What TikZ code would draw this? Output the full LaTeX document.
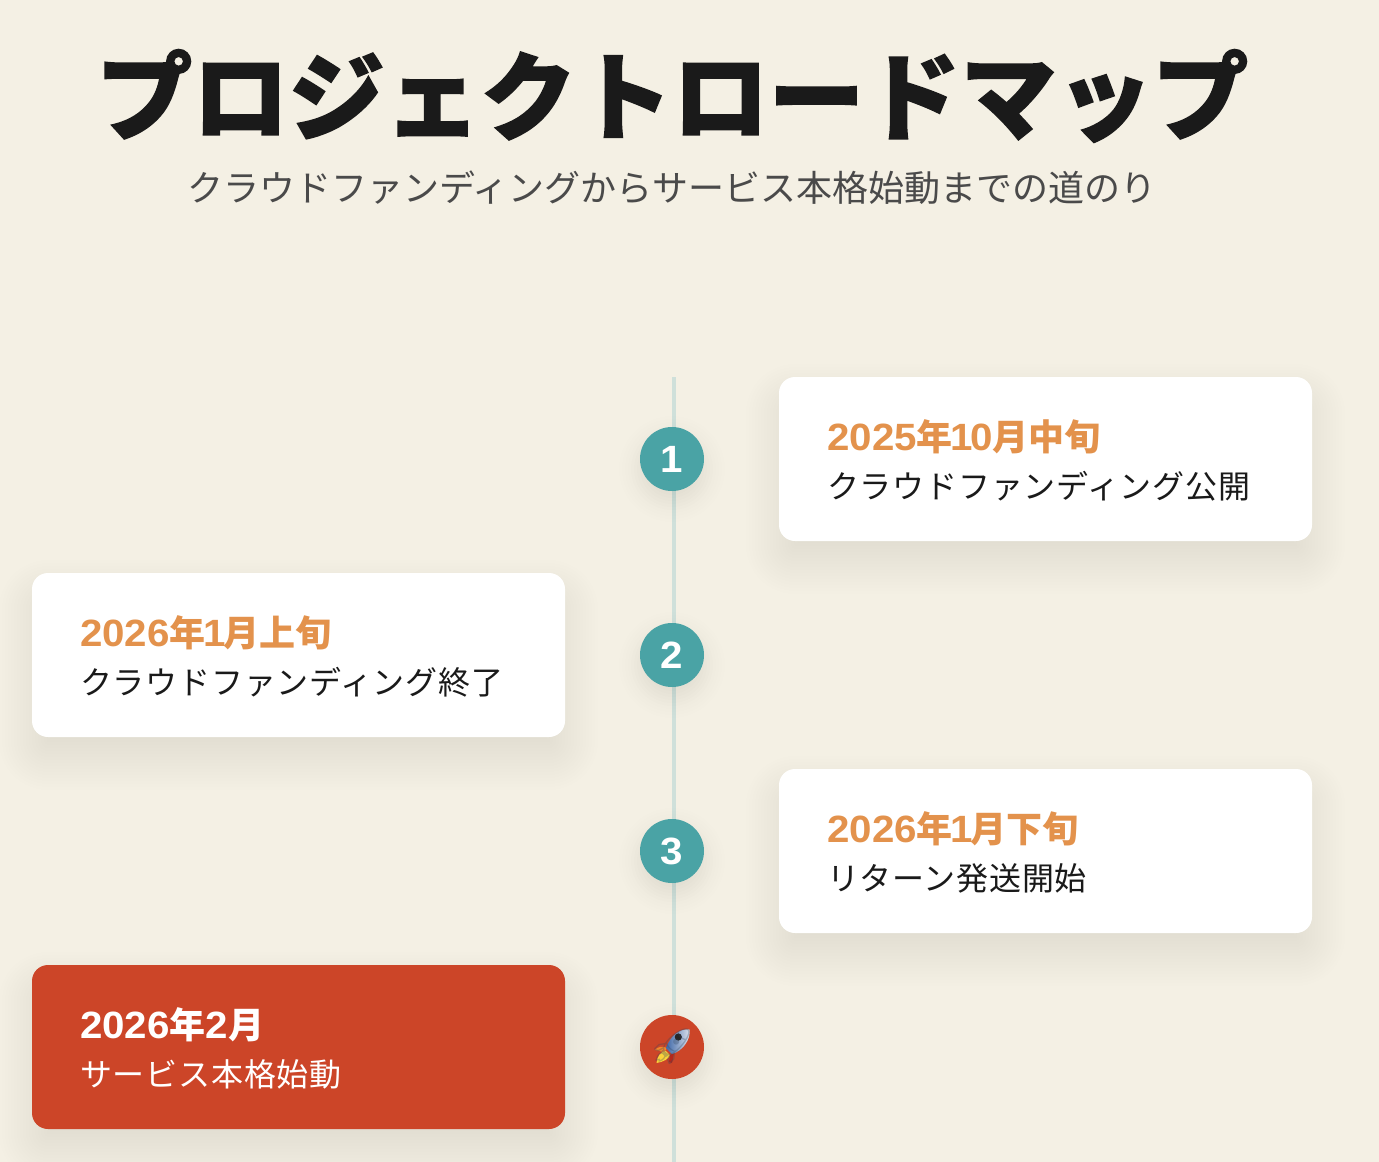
\documentclass[tikz,border=0pt]{standalone}
\usepackage{fontspec}
\usetikzlibrary{calc}
\newfontfamily\jpreg{Noto Sans CJK JP}
\newfontfamily\jpevent{Noto Sans CJK JP}[LetterSpace=2.4]
\newfontfamily\jpheavy{Noto Sans CJK JP}[BoldFeatures={FakeBold=1.5}]
\newfontfamily\latfam{Liberation Sans}[BoldFeatures={FakeStretch=1.06}]
\newcommand{\latbold}{\latfam\bfseries\fontsize{38}{38}\selectfont}
\newcommand{\jpbold}{\jpreg\bfseries}
\newfontfamily\emojifont{Noto Emoji}
\definecolor{pagebg}{HTML}{F4F0E4}
\definecolor{teal}{HTML}{4AA3A5}
\definecolor{dateor}{HTML}{E3924C}
\definecolor{launch}{HTML}{CC4528}
\definecolor{inktext}{HTML}{1A1A1A}
\definecolor{subtext}{HTML}{4A4A4A}
\definecolor{railcol}{HTML}{CFE0DA}
\definecolor{rkblue}{HTML}{3F68A8}
\definecolor{rksilver}{HTML}{E4E8EE}
\definecolor{rkline}{HTML}{2F4560}
\definecolor{rkyellow}{HTML}{FBD23A}
\definecolor{rkorange}{HTML}{F2882A}
\definecolor{rkred}{HTML}{B3281C}
\newcommand{\softcard}[4]{%
  \foreach \g in {54,51,...,-54}{%
    \pgfmathsetmacro{\w}{0.0052*exp(-(\g/24)*(\g/24)/2)}%
    \pgfmathsetmacro{\r}{max(1,16+\g)}%
    \fill[black,fill opacity=\w,rounded corners=\r pt]
      (#1-\g,#2-\g+20) rectangle (#3+\g,#4+\g+20);}}
\newcommand{\softdot}[2]{%
  \foreach \g in {30,27,...,-30}{%
    \pgfmathsetmacro{\w}{0.0085*exp(-(\g/14)*(\g/14)/2)}%
    \fill[black,fill opacity=\w] (#1,#2+10) circle ({32+\g});}}
\tikzset{
  cardbox/.style={rounded corners=16pt,inner sep=0pt,minimum width=533pt,minimum height=164pt,fill=white},
  launchbox/.style={cardbox,fill=launch},
  stepdot/.style={circle,inner sep=0pt,minimum size=64pt,fill=teal,text=white,font=\latbold},
  launchdot/.style={stepdot,fill=launch},
  rail/.style={railcol,line width=4pt},
  datetext/.style={anchor=base west,inner sep=0pt,text=dateor,font=\jpbold\fontsize{36}{36}\selectfont},
  eventtext/.style={anchor=base west,inner sep=0pt,text=inktext,font=\jpevent\fontsize{32}{32}\selectfont},
}
\newcommand{\dd}[1]{{\latbold #1}}
\newcommand{\nn}{\kern-2.5pt 1\kern-2.5pt }
\begin{document}
\begin{tikzpicture}[x=1pt,y=-1pt]
\useasboundingbox (0,0) rectangle (1379,1162);
\fill[pagebg] (0,0) rectangle (1379,1162);
\node[inner sep=0pt,text=inktext,font=\jpheavy\bfseries\fontsize{96}{96}\selectfont] (title) at (672.5,96) {プロジェクトロードマップ};
\node[inner sep=0pt,text=subtext,font=\jpreg\fontsize{36}{36}\selectfont] (subtitle) at (672,188) {クラウドファンディングからサービス本格始動までの道のり};
\coordinate (railtop) at (674,377);
\coordinate (railend) at (674,1162);
\draw[rail] (railtop) -- (railend);
\softcard{779}{377}{1312}{541}
\softcard{32}{573}{565}{737}
\softcard{779}{769}{1312}{933}
\softcard{32}{965}{565}{1129}
\softdot{672}{459}
\softdot{672}{655}
\softdot{672}{851}
\softdot{672}{1047}
\node[cardbox] (c1) at (1045.5,459) {};
\node[cardbox] (c2) at (298.5,655) {};
\node[cardbox] (c3) at (1045.5,851) {};
\node[launchbox] (c4) at (298.5,1047) {};
\node[stepdot] (d1) at (672,459) {1};
\node[stepdot] (d2) at (672,655) {2};
\node[stepdot] (d3) at (672,851) {3};
\node[launchdot] (d4) at (672,1047) {};
\node[datetext] (t1) at (827,450) {\dd{2025}年\dd{\nn 0}月中旬};
\node[eventtext] (e1) at (827,498) {クラウドファンディング公開};
\node[datetext] (t2) at (80,646) {\dd{2026}年\dd{\nn}月上旬};
\node[eventtext] (e2) at (80,694) {クラウドファンディング終了};
\node[datetext] (t3) at (827,842) {\dd{2026}年\dd{\nn}月下旬};
\node[eventtext] (e3) at (827,890) {リターン発送開始};
\node[datetext,text=white] (t4) at (80,1038) {\dd{2026}年\dd{2}月};
\node[eventtext,text=white] (e4) at (80,1086) {サービス本格始動};
% rocket colouring under the glyph
\begin{scope}[shift={(672,1047)}]
  \fill[rkorange] (-17.5,3) .. controls (-13,-1) and (-9,-1) .. (-5,1) -- (-8,6) .. controls (-11,4) and (-14,3) .. (-17.5,3) -- cycle;
  \fill[rkyellow] (-15.5,16) .. controls (-15,9) and (-11,4) .. (-6,4) -- (-2,8) .. controls (-3,12) and (-9,15) .. (-15.5,16) -- cycle;
  \fill[rkred] (-3,15) -- (-2,8) -- (2,6) -- (0,16) -- cycle;
  \shade[left color=rkblue,right color=rksilver]
    (17.5,-17.5) .. controls (8,-19) and (-2,-11) .. (-6,1) -- (0,7) .. controls (11,4) and (19,-8) .. (17.5,-17.5) -- cycle;
  \fill[black!85] (6.3,-10) circle (3.6);
\end{scope}
\node[inner sep=0pt,text=rkline,font=\emojifont\fontsize{36}{36}\selectfont,opacity=0.3] (rocket) at (672,1047) {🚀};
\end{tikzpicture}
\end{document}
